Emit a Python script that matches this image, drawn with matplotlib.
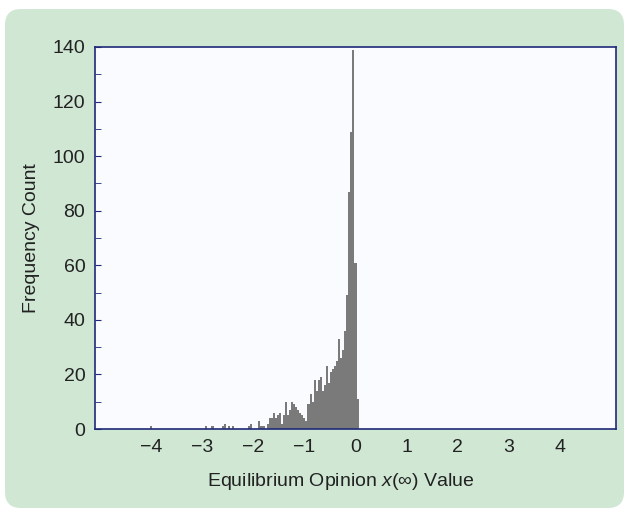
import numpy as np
import matplotlib
matplotlib.use("Agg")
import matplotlib.pyplot as plt
from matplotlib.patches import FancyBboxPatch
from matplotlib.ticker import MultipleLocator

plt.rcParams['font.family'] = ['Liberation Sans', 'DejaVu Sans']
plt.rcParams['mathtext.fontset'] = 'custom'
plt.rcParams['mathtext.rm'] = 'Liberation Sans'
plt.rcParams['mathtext.it'] = 'Liberation Sans:italic'

# histogram: bin width 0.04, first bin centred at -4.0
bin_width = 0.04
first_center = -4.0
counts = {
    0: 1, 27: 1, 30: 1, 35: 1, 36: 2, 38: 1, 40: 1,
    48: 1, 49: 2, 53: 3, 54: 1, 55: 1, 57: 2, 58: 4, 59: 4,
    60: 6, 61: 4, 62: 5, 63: 6, 64: 2, 65: 5, 66: 10, 67: 5,
    68: 7, 69: 10, 70: 9, 71: 8, 72: 7, 73: 6, 74: 5, 75: 4,
    76: 3, 77: 9, 78: 13, 79: 10, 80: 18, 81: 14, 82: 18, 83: 19,
    84: 14, 85: 16, 86: 23, 87: 17, 88: 21, 89: 22, 90: 23, 91: 25,
    92: 33, 93: 26, 94: 29, 95: 36, 96: 49, 97: 87, 98: 109,
    99: 139, 100: 61, 101: 11,
}
n_bins = 102
heights = np.zeros(n_bins)
for i, c in counts.items():
    heights[i] = c
centers = first_center + bin_width * np.arange(n_bins)
edges = np.append(centers - bin_width / 2, centers[-1] + bin_width / 2)

x_ticks = [-4, -3, -2, -1, 0, 1, 2, 3, 4]
y_ticks = [0, 20, 40, 60, 80, 100, 120, 140]

fig = plt.figure(figsize=(6.27, 5.13), dpi=100)
fig.patch.set_facecolor('white')
panel = FancyBboxPatch((0.05, 0.05), 6.19, 4.99,
                       boxstyle="round,pad=0,rounding_size=0.16",
                       transform=fig.dpi_scale_trans,
                       facecolor='#cfe7d3', edgecolor='none', zorder=-5)
fig.patches.append(panel)

ax = fig.add_axes([0.1515, 0.1637, 0.831, 0.7447])
ax.set_zorder(2)
ax.set_facecolor('#fafbfe')
ax.hist(centers, bins=edges, weights=heights, color='#7a7a7a',
        edgecolor='none')

ax.set_xlim(-5.1, 5.1)
ax.set_ylim(0, 140)
ax.set_xticks(x_ticks)
ax.set_yticks(y_ticks)
ax.yaxis.set_minor_locator(MultipleLocator(10))
ax.tick_params(axis='x', length=0, labelsize=14, pad=7, colors='#222222')
ax.tick_params(axis='y', which='both', direction='in', length=4,
               color='#1f2a78', labelsize=14, pad=7, labelcolor='#222222')
for s in ax.spines.values():
    s.set_color('#1f2a78')
    s.set_linewidth(1.2)

ax.set_xlabel('Equilibrium Opinion $x$(\u221e) Value', fontsize=14,
              color='#222222')
ax.xaxis.set_label_coords(0.472, -0.11)
ax.set_ylabel('Frequency Count', fontsize=14, color='#222222', labelpad=9)

fig.savefig('out.png', dpi=100)
